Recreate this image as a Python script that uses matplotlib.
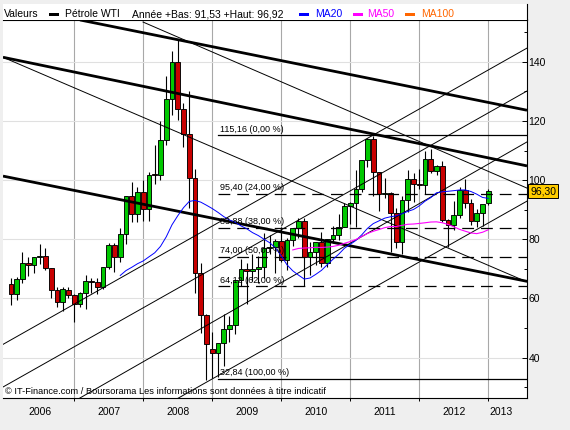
import matplotlib
matplotlib.use("Agg")
import matplotlib.pyplot as plt
import matplotlib.transforms as mtransforms
from matplotlib.patches import Rectangle
from matplotlib.lines import Line2D
import numpy as np
import pandas as pd

plt.rcParams['font.family'] = ['Liberation Sans', 'DejaVu Sans']
plt.rcParams['lines.scale_dashes'] = False

# ---------------- data (monthly candles, Feb 2006 .. Jan 2013) ----------------
opens = [64.9, 61.4, 66.6, 71.9, 71.3, 73.9, 74.4, 70.3, 62.9, 58.7, 62.8,
         61.05, 58.1, 61.8, 65.9, 65.7, 64.0, 70.7, 78.2, 74.0, 81.7, 94.5, 88.7,
         96.0, 90.3, 101.8, 101.6, 113.5, 127.4, 140.0, 124.1, 115.5, 100.6, 68.5, 54.4,
         42.9, 41.7, 44.8, 49.7, 51.1, 66.3, 69.9, 69.45, 69.96, 70.6, 77.0, 77.3,
         79.4, 72.9, 79.7, 83.8, 86.2, 74.0, 75.6, 78.95, 71.9, 80.0, 81.4, 84.1,
         91.4, 92.2, 97.0, 106.7, 113.9, 102.7, 95.4, 95.7, 88.8, 79.2, 93.2, 100.4,
         98.8, 98.5, 107.1, 103.0, 104.9, 86.5, 85.0, 88.1, 96.5, 92.2, 86.2, 88.9,
         92.2]
highs = [67.0, 67.3, 75.8, 73.9, 74.0, 78.4, 77.0, 70.4, 64.0, 64.0, 64.0,
         61.5, 62.3, 68.1, 67.0, 66.8, 70.8, 78.8, 78.8, 83.9, 94.7, 99.3, 97.8,
         100.1, 102.6, 111.8, 119.9, 135.1, 143.7, 147.3, 126.0, 130.0, 103.9, 71.9, 54.7,
         48.6, 43.8, 54.7, 54.2, 66.4, 73.4, 72.0, 75.0, 74.2, 82.0, 81.5, 80.0,
         84.0, 80.5, 83.9, 87.1, 87.2, 79.0, 79.2, 82.4, 80.0, 84.4, 88.6, 92.1,
         92.6, 103.4, 106.9, 114.2, 114.8, 102.9, 100.6, 96.1, 90.5, 94.7, 103.4, 102.4,
         103.7, 109.8, 110.6, 105.2, 106.4, 86.7, 92.9, 97.8, 100.4, 93.7, 90.3, 91.5,
         96.92]
lows = [57.9, 59.6, 65.2, 67.6, 68.5, 71.7, 69.6, 60.0, 57.0, 55.9, 60.0,
        52.0, 57.2, 56.5, 61.9, 61.4, 63.2, 69.9, 69.0, 72.5, 78.3, 86.0, 85.9,
        86.1, 86.1, 98.7, 100.1, 112.0, 122.0, 120.4, 111.3, 90.5, 62.0, 48.3, 32.4,
        33.2, 33.5, 37.3, 45.2, 48.0, 64.3, 58.3, 65.8, 65.1, 66.9, 75.2, 68.6,
        72.4, 69.5, 77.9, 80.5, 64.2, 68.0, 71.2, 70.8, 70.8, 78.9, 79.8, 84.0,
        85.1, 84.1, 96.0, 104.4, 94.6, 89.6, 93.9, 75.7, 77.1, 75.0, 89.2, 92.5,
        96.9, 95.4, 102.5, 101.7, 85.9, 77.3, 83.2, 87.2, 90.5, 84.8, 84.1, 84.6,
        91.53]
closes = [61.4, 66.6, 71.9, 71.3, 73.9, 74.4, 70.3, 62.9, 58.7, 63.1, 61.05,
          58.1, 61.8, 65.9, 65.7, 64.0, 70.7, 78.2, 74.0, 81.7, 94.5, 88.7, 96.0,
          90.3, 101.8, 101.6, 113.5, 127.4, 140.0, 124.1, 115.5, 100.6, 68.5, 54.4, 44.6,
          41.7, 44.8, 49.7, 51.1, 66.3, 69.9, 69.45, 69.96, 70.6, 77.0, 77.3, 79.4,
          72.9, 79.7, 83.8, 86.2, 74.0, 75.6, 78.95, 71.9, 80.0, 81.4, 84.1, 91.4,
          92.2, 97.0, 106.7, 113.9, 102.7, 95.4, 95.7, 88.8, 79.2, 93.2, 100.4, 98.8,
          98.5, 107.1, 103.0, 104.9, 86.5, 85.0, 88.1, 96.5, 92.2, 86.2, 88.9, 91.8,
          96.3]

year_labels = ['2006', '2007', '2008', '2009', '2010', '2011', '2012', '2013']
year_label_pos = [5, 17, 29, 41, 53, 65, 77, 85.2]      # candle index
year_start_pos = [11, 23, 35, 47, 59, 71, 83]           # January candles

# trend lines drawn on the chart: (index, price) endpoints
thick_lines = [((12.0, 154.1), (89.74, 123.6)),
               ((-1.39, 141.5), (89.74, 104.8)),
               ((-1.39, 101.35), (89.74, 65.8))]
thin_lines = [((22.96, 153.4), (89.74, 97.3)),
              ((-1.39, 141.5), (89.74, 65.6)),
              ((-1.39, 44.5), (89.74, 144.6)),
              ((-1.39, 30.1), (89.74, 130.1)),
              ((-1.39, 11.5), (89.74, 112.9)),
              ((-1.39, -7.1), (89.74, 92.9))]

fib_levels = [115.16, 95.40, 83.88, 74.00, 64.12, 32.84]
fib_pcts = ['0,00', '24,00', '38,00', '50,00', '62,00', '100,00']
fib_start = 36.0

last_value = 96.30
header_info = 'Année +Bas: 91,53 +Haut: 96,92'

# ---------------- figure ----------------
W, H = 570, 430
fig = plt.figure(figsize=(W / 100, H / 100), dpi=100, facecolor='#efefef')

def fx(px):
    return px / W

def fy(py):
    return 1 - py / H

ax = fig.add_axes([fx(3), fy(398), (527 - 3) / W, (398 - 19.5) / H])
ax.set_facecolor('white')
ax.set_xlim(-1.391, 89.739)
ax.set_ylim(26.385, 154.257)

idx = np.arange(len(closes))
o = np.array(opens); h = np.array(highs); l = np.array(lows); c = np.array(closes)
up = c >= o

# wicks
ax.vlines(idx, l, h, color='black', lw=0.8, zorder=3)
# bodies
bottoms = np.minimum(o, c)
heights = np.maximum(np.abs(c - o), 0.35)
colors = np.where(up, '#00c800', '#c80000')
ax.bar(idx, heights, bottom=bottoms, width=0.8, color=colors,
       edgecolor='black', linewidth=0.65, zorder=4)

# moving averages
s = pd.Series(closes)
ma20 = s.rolling(20).mean()
ma50 = s.rolling(50).mean()
ax.plot(idx, ma20, color='#0000ff', lw=0.7, zorder=7)
ax.plot(idx, ma50, color='#ff00ff', lw=0.8, zorder=7)

# trend lines
for (p0, p1) in thick_lines:
    ax.plot([p0[0], p1[0]], [p0[1], p1[1]], color='black', lw=2.0, zorder=5,
            solid_capstyle='butt')
for (p0, p1) in thin_lines:
    ax.plot([p0[0], p1[0]], [p0[1], p1[1]], color='black', lw=0.7, zorder=5)

# fibonacci levels
xmax = ax.get_xlim()[1]
for lev, pct in zip(fib_levels, fib_pcts):
    if pct in ('0,00', '100,00'):
        ax.plot([fib_start, xmax], [lev, lev], color='black', lw=0.9, zorder=6)
    else:
        ax.plot([fib_start, xmax], [lev, lev], color='black', lw=0.9, zorder=6,
                linestyle=(0, (8.5, 5.0)))
    lab = f"{lev:.2f}".replace('.', ',') + f" ({pct} %)"
    ax.annotate(lab, (fib_start + 0.35, lev), xytext=(0, 1.2),
                textcoords='offset points', fontsize=6.5, ha='left', va='bottom',
                zorder=8)

# axes styling
ax.yaxis.tick_right()
ax.set_yticks([40, 60, 80, 100, 120, 140])
ax.set_yticks([30, 50, 70, 90, 110, 130, 150], minor=True)
ax.set_yticklabels(['40', '60', '80', '100', '120', '140'])
ax.tick_params(axis='y', which='major', direction='in', length=3.6, width=0.7,
               labelsize=7.5, pad=1.2)
ax.tick_params(axis='y', which='minor', direction='in', length=2.2, width=0.7)
ax.yaxis.grid(True, which='major', color='#e0e0e0', lw=0.8, zorder=0)

ax.set_xticks(year_start_pos)
ax.set_xticklabels([])
ax.set_xticks(year_label_pos, minor=True)
ax.set_xticklabels(year_labels, minor=True)
ax.tick_params(axis='x', which='major', direction='out', length=2.5, width=0.7)
ax.tick_params(axis='x', which='minor', length=0, labelsize=7.5, pad=6.8)
ax.xaxis.grid(True, which='major', color='#a8a8a8', lw=0.8, zorder=0)
ax.set_axisbelow(True)

ax.spines['left'].set_visible(False)
for sp in ('top', 'bottom', 'right'):
    ax.spines[sp].set_color('black')
    ax.spines[sp].set_linewidth(0.8)

# last value label
trans = mtransforms.blended_transform_factory(ax.transAxes, ax.transData)
ax.annotate(f"{last_value:.2f}".replace('.', ','), (1.0, last_value), xycoords=trans,
            xytext=(2.2, 0), textcoords='offset points', ha='left', va='center',
            fontsize=7.5, annotation_clip=False, zorder=10,
            bbox=dict(boxstyle='square,pad=0.18', fc='#ffcc00', ec='black', lw=0.7))

# header
fig.patches.append(Rectangle((fx(3), fy(19.5)), (527 - 3) / W, (19.5 - 4) / H,
                             transform=fig.transFigure, facecolor='white',
                             edgecolor='none', zorder=0))
fig.add_artist(Line2D([fx(527), fx(527)], [fy(4), fy(19.5)], color='black', lw=0.8))
ty = fy(14.3)
fig.text(fx(4), ty, 'Valeurs', fontsize=7.5, va='center')
fig.text(fx(65), ty, 'Pétrole WTI', fontsize=7.5, va='center')
fig.text(fx(132), ty, header_info, fontsize=7.5, va='center')
fig.text(fx(315), ty, 'MA20', fontsize=7.5, va='center', color='#0000ff')
fig.text(fx(367), ty, 'MA50', fontsize=7.5, va='center', color='#ff00ff')
fig.text(fx(421), ty, 'MA100', fontsize=7.5, va='center', color='#ff6600')
for x0, col in [(49, 'black'), (299, '#0000ff'), (353, '#ff00ff'), (405, '#ff6600')]:
    fig.patches.append(Rectangle((fx(x0), fy(16)), 9.5 / W, 3.2 / H,
                                 transform=fig.transFigure, facecolor=col,
                                 edgecolor='none'))

# footer
fig.text(fx(5), fy(391.5), '© IT-Finance.com / Boursorama Les informations sont données à titre indicatif',
         fontsize=6.7, va='center', ha='left')

fig.savefig('out.png', dpi=100, facecolor=fig.get_facecolor())
